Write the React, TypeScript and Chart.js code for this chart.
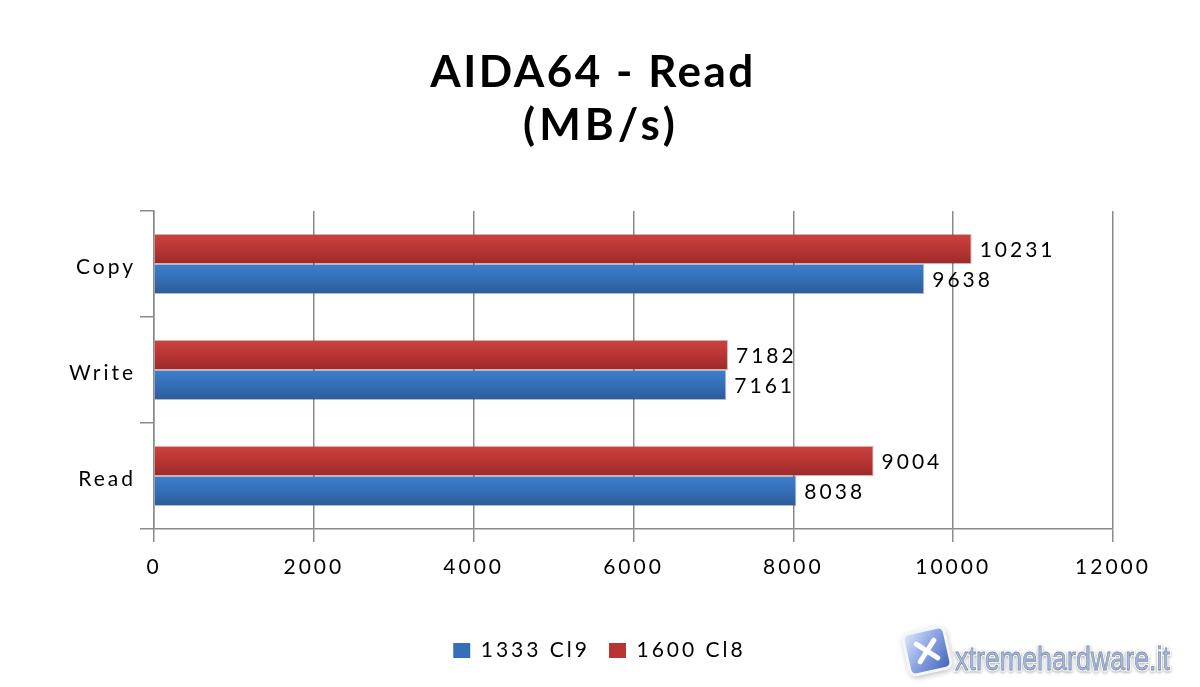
import React, { useEffect, useRef } from "react";
import { Chart, registerables } from "chart.js";

Chart.register(...registerables);

const categories = ["Copy", "Write", "Read"];
const series1600 = [10231, 7182, 9004];
const series1333 = [9638, 7161, 8038];
const seriesNames = ["1600 Cl8", "1333 Cl9"];
const xTicks = [0, 2000, 4000, 6000, 8000, 10000, 12000];
const titleLines = ["AIDA64 - Read", "(MB/s)"];
const watermarkText = "xtremehardware.it";

const CAT_PCT = 0.564;
const FONT = "Lato";
const GRID = "#8a8a8a";

function barGradient(ctx: any, top: string, bottom: string, solid: string) {
  const chart = ctx.chart;
  const ys = chart.scales && chart.scales.y;
  if (!ys || ctx.dataIndex === undefined) return solid;
  const center = ys.getPixelForValue(ctx.dataIndex);
  const band = ys.height / categories.length;
  const h = (band * CAT_PCT) / 2;
  const y0 = ctx.datasetIndex === 0 ? center - h : center;
  const g = chart.ctx.createLinearGradient(0, y0, 0, y0 + h);
  g.addColorStop(0, top);
  g.addColorStop(0.45, solid);
  g.addColorStop(1, bottom);
  return g;
}

const spacingPlugin = {
  id: "spacing",
  beforeLayout(chart: any) {
    chart.ctx.letterSpacing = "3px";
  },
  afterLayout(chart: any) {
    const l = chart.legend;
    if (l) {
      l.left += 43;
      l.right += 43;
    }
  },
  beforeDraw(chart: any) {
    chart.ctx.letterSpacing = "3px";
  },
};

const valueLabels = {
  id: "valueLabels",
  afterDatasetsDraw(chart: any) {
    const ctx = chart.ctx;
    ctx.save();
    ctx.font = `21px ${FONT}`;
    ctx.letterSpacing = "3px";
    ctx.fillStyle = "#000";
    ctx.textAlign = "left";
    ctx.textBaseline = "middle";
    chart.data.datasets.forEach((ds: any, i: number) => {
      chart.getDatasetMeta(i).data.forEach((bar: any, j: number) => {
        ctx.fillText(String(ds.data[j]), bar.x + 8, bar.y + 1);
      });
    });
    ctx.restore();
  },
};

const decorPlugin = {
  id: "decor",
  afterDraw(chart: any) {
    const ctx = chart.ctx;
    // Title
    ctx.save();
    ctx.font = `bold 44px ${FONT}`;
    ctx.letterSpacing = "2.5px";
    ctx.fillStyle = "#000";
    ctx.textAlign = "center";
    ctx.textBaseline = "alphabetic";
    ctx.fillText(titleLines[0], 593, 87);
    ctx.letterSpacing = "4px";
    ctx.fillText(titleLines[1], 601, 140);
    ctx.restore();

    // Watermark logo
    ctx.save();
    ctx.translate(927, 651);
    ctx.rotate(-0.22);
    ctx.shadowColor = "rgba(0,0,0,0.35)";
    ctx.shadowBlur = 6;
    ctx.shadowOffsetX = 1;
    ctx.shadowOffsetY = 2;
    const s = 21;
    ctx.beginPath();
    ctx.roundRect(-s, -s, 2 * s, 2 * s, 6);
    const g = ctx.createLinearGradient(-s, -s, s, s);
    g.addColorStop(0, "#e4ecfa");
    g.addColorStop(0.45, "#8ea8e4");
    g.addColorStop(1, "#3f5fb8");
    ctx.fillStyle = g;
    ctx.fill();
    ctx.shadowColor = "transparent";
    ctx.lineWidth = 3;
    ctx.strokeStyle = "#f4f6fb";
    ctx.stroke();
    ctx.lineCap = "round";
    ctx.lineWidth = 5;
    ctx.strokeStyle = "#ffffff";
    ctx.beginPath();
    ctx.moveTo(-9, -9);
    ctx.lineTo(9, 9);
    ctx.moveTo(9, -9);
    ctx.lineTo(-9, 9);
    ctx.stroke();
    ctx.restore();

    // Watermark text
    ctx.save();
    ctx.font = `33px "Liberation Sans"`;
    ctx.letterSpacing = "0px";
    const w = ctx.measureText(watermarkText).width;
    ctx.translate(955, 661);
    ctx.scale(215 / w, 1);
    ctx.shadowColor = "rgba(0,0,0,0.35)";
    ctx.shadowBlur = 3;
    ctx.shadowOffsetY = 1;
    ctx.lineWidth = 3;
    ctx.strokeStyle = "#ffffff";
    ctx.strokeText(watermarkText, 0, 0);
    ctx.shadowColor = "transparent";
    ctx.fillStyle = "#a8b8d8";
    ctx.fillText(watermarkText, 0, 0);
    ctx.lineWidth = 0.8;
    ctx.strokeStyle = "#7f8fb0";
    ctx.strokeText(watermarkText, 0, 0);
    ctx.restore();
  },
};

export default function App() {
  const ref = useRef<HTMLCanvasElement | null>(null);

  useEffect(() => {
    if (!ref.current) return;
    const chart = new Chart(ref.current, {
      type: "bar",
      data: {
        labels: categories,
        datasets: [
          {
            label: seriesNames[0],
            data: series1600,
            backgroundColor: (c: any) => barGradient(c, "#cc4341", "#9c2a29", "#ba3634"),
            borderColor: "rgba(120,30,30,0.35)",
            borderWidth: 1,
            categoryPercentage: CAT_PCT,
            barPercentage: 1,
          },
          {
            label: seriesNames[1],
            data: series1333,
            backgroundColor: (c: any) => barGradient(c, "#3d7fcd", "#2d5c9a", "#3570ba"),
            borderColor: "rgba(30,60,110,0.35)",
            borderWidth: 1,
            categoryPercentage: CAT_PCT,
            barPercentage: 1,
          },
        ],
      },
      options: {
        indexAxis: "y",
        animation: false,
        responsive: false,
        layout: { padding: { top: 211, left: 0, right: 87, bottom: 16 } },
        scales: {
          x: {
            min: xTicks[0],
            max: xTicks[xTicks.length - 1],
            afterBuildTicks: (s: any) => {
              s.ticks = xTicks.map((v) => ({ value: v }));
            },
            ticks: {
              color: "#000",
              font: { family: FONT, size: 21 },
              padding: 13,
              maxRotation: 0,
              callback: (v: any) => String(v),
            },
            grid: { color: GRID, lineWidth: 1.5, tickLength: 13, drawTicks: true },
            border: { display: true, color: GRID, width: 1.5 },
            afterFit: (s: any) => {
              s.height = 92;
            },
          },
          y: {
            ticks: {
              color: "#000",
              font: { family: FONT, size: 21 },
              padding: 4,
              labelOffset: 3,
            },
            grid: {
              color: GRID,
              lineWidth: 1.5,
              drawOnChartArea: false,
              drawTicks: true,
              tickLength: 14,
              offset: true,
            },
            border: { display: true, color: GRID, width: 1.5 },
            afterFit: (s: any) => {
              s.width = 154;
            },
          },
        },
        plugins: {
          legend: {
            position: "bottom",
            reverse: true,
            labels: {
              color: "#000",
              font: { family: FONT, size: 21 },
              boxWidth: 17,
              boxHeight: 15,
              padding: 19,
              generateLabels: (ch: any) =>
                ch.data.datasets.map((ds: any, i: number) => ({
                  text: ds.label,
                  fillStyle: i === 0 ? "#b83533" : "#356fb9",
                  strokeStyle: i === 0 ? "#b83533" : "#356fb9",
                  lineWidth: 0,
                  datasetIndex: i,
                  hidden: false,
                })),
            },
          },
          title: { display: false },
          tooltip: { enabled: false },
        },
      },
      plugins: [spacingPlugin, valueLabels, decorPlugin],
    } as any);
    return () => chart.destroy();
  }, []);

  return (
    <div style={{ position: "absolute", left: 0, top: 0, width: 1200, height: 687, background: "#fff" }}>
      <canvas ref={ref} width={1200} height={687} style={{ display: "block" }} />
    </div>
  );
}
